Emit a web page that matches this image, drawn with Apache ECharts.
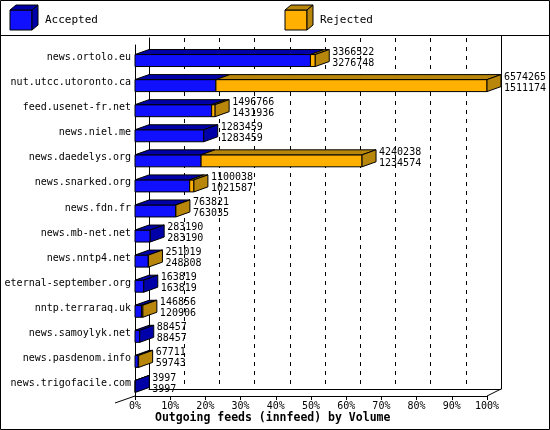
<!DOCTYPE html>
<html><head><meta charset="utf-8">
<script src="https://cdn.jsdelivr.net/npm/echarts@6/dist/echarts.min.js"></script>
<style>body{margin:0}#box{width:550px;height:430px;}</style>
</head><body><div id="box"></div>
<script>
var hosts = ['news.ortolo.eu','nut.utcc.utoronto.ca','feed.usenet-fr.net','news.niel.me','news.daedelys.org','news.snarked.org','news.fdn.fr','news.mb-net.net','news.nntp4.net','eternal-september.org','nntp.terraraq.uk','news.samoylyk.net','news.pasdenom.info','news.trigofacile.com'];
var offered = [3366522,6574265,1496766,1283459,4240238,1100038,763821,283190,251019,163819,146856,88457,67711,3997];
var accepted = [3276748,1511174,1431936,1283459,1234574,1021587,763035,283190,248808,163819,120906,88457,59743,3997];
var ticks = ['0%','10%','20%','30%','40%','50%','60%','70%','80%','90%','100%'];

var maxVal = Math.max.apply(null, offered);
var FONT = 'DejaVu Sans Mono';
var DX = 14, DY = -5, H = 12;
var data = hosts.map(function (h, i) { return [i, accepted[i], offered[i]]; });

function face(pts, fill) {
    return { type: 'polygon', shape: { points: pts }, style: { fill: fill, stroke: '#000', lineWidth: 1 } };
}
function bar3d(x0, x1, yTop, front, top) {
    return [
        face([[x0, yTop], [x1, yTop], [x1, yTop + H], [x0, yTop + H]], front),
        face([[x0, yTop], [x0 + DX, yTop + DY], [x1 + DX, yTop + DY], [x1, yTop]], top)
    ];
}
// legend box with 3d look
function legendBox(x, fill, side) {
    return [
        { type: 'polygon', shape: { points: [[x, 10], [x + 22, 10], [x + 22, 30], [x, 30]] }, style: { fill: fill, stroke: '#000' } },
        { type: 'polygon', shape: { points: [[x, 10], [x + 6, 5], [x + 28, 5], [x + 22, 10]] }, style: { fill: side, stroke: '#000' } },
        { type: 'polygon', shape: { points: [[x + 22, 10], [x + 28, 5], [x + 28, 25], [x + 22, 30]] }, style: { fill: side, stroke: '#000' } }
    ];
}

var chart = echarts.init(document.getElementById('box'));
chart.setOption({
    backgroundColor: '#fff',
    animation: false,
    grid: [
        { left: 135, right: 63, top: 45, bottom: 34, containLabel: false, outerBoundsMode: 'none' },
        { left: 149, right: 49, top: 38, bottom: 41, containLabel: false, outerBoundsMode: 'none' }
    ],
    xAxis: [
        { gridIndex: 0, type: 'value', min: 0, max: maxVal, interval: maxVal / 10,
          axisLine: { show: true, lineStyle: { color: '#000' } },
          axisTick: { show: true, length: 4, lineStyle: { color: '#000' } },
          splitLine: { show: false },
          axisLabel: { formatter: function (v) { return ticks[Math.round(v / maxVal * 10)]; },
                       fontFamily: FONT, fontSize: 10, color: '#000', margin: 5 } },
        { gridIndex: 1, type: 'value', min: 0, max: 10, interval: 1,
          axisLine: { show: true, lineStyle: { color: '#000' } }, axisTick: { show: false },
          axisLabel: { show: false },
          splitLine: { show: true, lineStyle: { color: '#000', type: [4, 5] } } }
    ],
    yAxis: [
        { gridIndex: 0, type: 'category', data: hosts, inverse: true,
          axisLine: { show: true, lineStyle: { color: '#000' } }, axisTick: { show: false },
          axisLabel: { fontFamily: FONT, fontSize: 10, color: '#000', margin: 4 } },
        { gridIndex: 1, type: 'value', min: 0, max: 1,
          axisLine: { show: true, lineStyle: { color: '#000' } }, axisTick: { show: false },
          axisLabel: { show: false }, splitLine: { show: false } }
    ],
    graphic: [
        { type: 'rect', shape: { x: 0.5, y: 0.5, width: 549, height: 429 }, style: { fill: 'none', stroke: '#000' } },
        { type: 'line', shape: { x1: 0, y1: 35.5, x2: 550, y2: 35.5 }, style: { stroke: '#000' } },
        { type: 'line', shape: { x1: 487, y1: 396, x2: 501, y2: 389 }, style: { stroke: '#000' } },
        { type: 'line', shape: { x1: 501.5, y1: 36, x2: 501.5, y2: 389 }, style: { stroke: '#000' } },
        { type: 'line', shape: { x1: 115, y1: 403, x2: 135, y2: 396 }, style: { stroke: '#000' } },
        { type: 'text', style: { x: 45, y: 20, text: 'Accepted', font: '11px ' + FONT, fill: '#000', verticalAlign: 'middle' } },
        { type: 'text', style: { x: 320, y: 20, text: 'Rejected', font: '11px ' + FONT, fill: '#000', verticalAlign: 'middle' } },
        { type: 'text', style: { x: 155, y: 418, text: 'Outgoing feeds (innfeed) by Volume', font: 'bold 11.5px ' + FONT, fill: '#000', verticalAlign: 'middle' } }
    ].concat(legendBox(10, '#1010ff', '#0000a8'), legendBox(285, '#ffb000', '#b8860b')),
    series: [{
        type: 'custom', xAxisIndex: 0, yAxisIndex: 0, data: data, clip: false,
        renderItem: function (params, api) {
            var i = api.value(0), a = api.value(1), t = api.value(2);
            var p0 = api.coord([0, i]), pa = api.coord([a, i]), pt = api.coord([t, i]);
            var yTop = p0[1] - H / 2 + 3;
            var kids = [];
            kids = kids.concat(bar3d(p0[0], pa[0], yTop, '#1010ff', '#0000a8'));
            var side = '#0000a8';
            if (t > a) {
                kids = kids.concat(bar3d(pa[0], pt[0], yTop, '#ffb000', '#b8860b'));
                side = '#b8860b';
            }
            var x1 = pt[0];
            kids.push(face([[x1, yTop], [x1 + DX, yTop + DY], [x1 + DX, yTop + DY + H], [x1, yTop + H]], side));
            kids.push({ type: 'text', style: { x: x1 + DX + 3, y: yTop + H / 2 - 3,
                text: offered[i] + '\n' + accepted[i], font: '10px ' + FONT, fill: '#000',
                verticalAlign: 'middle', lineHeight: 11 } });
            return { type: 'group', children: kids };
        }
    }]
});
</script></body></html>
